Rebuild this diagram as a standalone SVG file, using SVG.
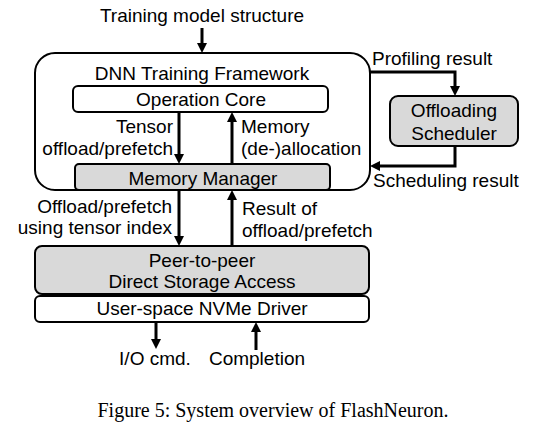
<svg xmlns="http://www.w3.org/2000/svg" width="546" height="428" viewBox="0 0 546 428">
<style>
.box{stroke:#000;stroke-width:2;fill:#fff}
.gray{fill:#d9d9d9}
.lbl{font-family:"Liberation Sans",Arial,sans-serif;font-size:19px;fill:#000}
.mid{text-anchor:middle}
.end{text-anchor:end}
.conn{fill:none;stroke:#000;stroke-width:3;marker-end:url(#arr)}
.cap{font-family:"Liberation Serif","Times New Roman",serif;font-size:20px;fill:#000;text-anchor:middle}
</style>
<defs>
<marker id="arr" viewBox="0 0 10 10" markerWidth="10" markerHeight="11" markerUnits="userSpaceOnUse" refX="4" refY="5" orient="auto">
<path d="M0,0 L10,5 L0,10 z" fill="#000"/>
</marker>
</defs>
<rect width="546" height="428" fill="#fff"/>
<g id="framework">
<rect class="box" x="35" y="53" width="335" height="137" rx="20"/>
<text class="lbl mid" x="202" y="80">DNN Training Framework</text>
</g>
<g id="operation-core">
<rect class="box" x="73" y="86" width="255" height="26" rx="5"/>
<text class="lbl mid" x="201" y="106">Operation Core</text>
</g>
<g id="memory-manager">
<rect class="box gray" x="75" y="164" width="255" height="26" rx="4"/>
<text class="lbl mid" x="203" y="185">Memory Manager</text>
</g>
<g id="offloading-scheduler">
<rect class="box gray" x="390" y="96" width="128" height="50" rx="8"/>
<text class="lbl mid" x="454" y="117">Offloading</text>
<text class="lbl mid" x="454" y="140">Scheduler</text>
</g>
<g id="p2p">
<rect class="box gray" x="35" y="246" width="334" height="48" rx="7"/>
<text class="lbl mid" x="202" y="267">Peer-to-peer</text>
<text class="lbl mid" x="202" y="288">Direct Storage Access</text>
</g>
<g id="nvme-driver">
<rect class="box" x="35" y="296" width="334" height="26" rx="5"/>
<text class="lbl mid" x="202" y="315">User-space NVMe Driver</text>
</g>
<g id="connectors">
<path class="conn" d="M202 28 V47"/>
<path class="conn" d="M179 112 V158"/>
<path class="conn" d="M232 164 V118"/>
<path class="conn" d="M370 72 H455 V90"/>
<path class="conn" d="M455 146 V166 H376"/>
<path class="conn" d="M179 190 V240"/>
<path class="conn" d="M232 246 V196"/>
<path class="conn" d="M156 322 V343"/>
<path class="conn" d="M256 350 V328"/>
</g>
<g id="labels">
<text class="lbl mid" x="202" y="22">Training model structure</text>
<text class="lbl end" x="173" y="133">Tensor</text>
<text class="lbl end" x="173" y="155">offload/prefetch</text>
<text class="lbl" x="241" y="133">Memory</text>
<text class="lbl" x="241" y="155">(de-)allocation</text>
<text class="lbl" x="372" y="65">Profiling result</text>
<text class="lbl" x="373" y="187">Scheduling result</text>
<text class="lbl end" x="172" y="213">Offload/prefetch</text>
<text class="lbl end" x="172" y="234">using tensor index</text>
<text class="lbl" x="242" y="215">Result of</text>
<text class="lbl" x="242" y="237">offload/prefetch</text>
<text class="lbl mid" x="155" y="365">I/O cmd.</text>
<text class="lbl mid" x="257" y="365">Completion</text>
</g>
<text class="cap" x="273" y="417">Figure 5: System overview of FlashNeuron.</text>
</svg>
